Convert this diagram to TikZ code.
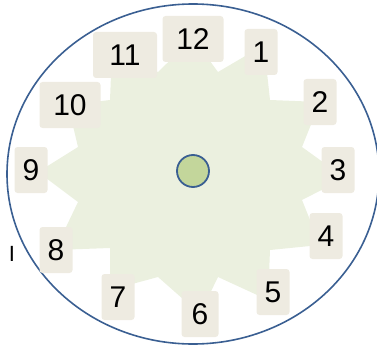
\documentclass[tikz,border=0pt]{standalone}
\usepackage{fontspec}
\setmainfont{Liberation Sans}
\usetikzlibrary{positioning}
\definecolor{rimblue}{HTML}{3A5F92}
\definecolor{starfill}{HTML}{EBF0DF}
\definecolor{boxfill}{HTML}{EEEBE1}
\definecolor{hubfill}{HTML}{C3D69B}
\tikzset{
  numbox/.style={
    shape = rectangle,
    fill = boxfill,
    rounded corners = 3pt,
    inner sep = 0pt,
    minimum width = 33pt,
    minimum height = 46pt,
    font = \fontsize{30}{30}\selectfont
  },
  widebox/.style={
    numbox,
    minimum width = 61pt
  },
  hub/.style={
    shape = circle,
    draw = rimblue,
    fill = hubfill,
    line width = 1.8pt,
    inner sep = 0pt,
    minimum size = 32pt
  },
}

\begin{document}
\begin{tikzpicture}[x=1pt,y=-1pt]
        \useasboundingbox (0,0) rectangle (377,350);

        \draw[rimblue, line width=1.6pt] (193,174) ellipse [x radius=186, y radius=170];

        \fill[starfill] (193,38) -- (218,72) -- (264,45) -- (270,100) -- (320,102) -- (302,147)
            -- (345,178) -- (302,200) -- (320,245) -- (270,250) -- (268,300) -- (218,277)
            -- (200,314) -- (158,277) -- (110,290) -- (110,248) -- (55,250) -- (78,202)
            -- (38,172) -- (78,147) -- (68,105) -- (110,100) -- (112,50) -- (158,72) -- cycle;

        \node[widebox] (h12) at (193,39) {12};
        \node[numbox] (h1) at (261,52) {1};
        \node[numbox] (h2) at (320,102) {2};
        \node[numbox] (h3) at (338,170) {3};
        \node[numbox] (h4) at (326,236) {4};
        \node[numbox] (h5) at (273,292) {5};
        \node[numbox, minimum width=37pt] (h6) at (200,314) {6};
        \node[numbox] (h7) at (118,297) {7};
        \node[numbox] (h8) at (56,250) {8};
        \node[numbox] (h9) at (31,170) {9};
        \node[widebox] (h10) at (70,105) {10};
        \node[widebox, minimum width=64pt] (h11) at (125,55) {11};

        \node[hub] (center) at (193,171) {};
        \node[font=\fontsize{22}{22}\selectfont, inner sep=0pt] (mark) at (12,254) {I};
\end{tikzpicture}
\end{document}
